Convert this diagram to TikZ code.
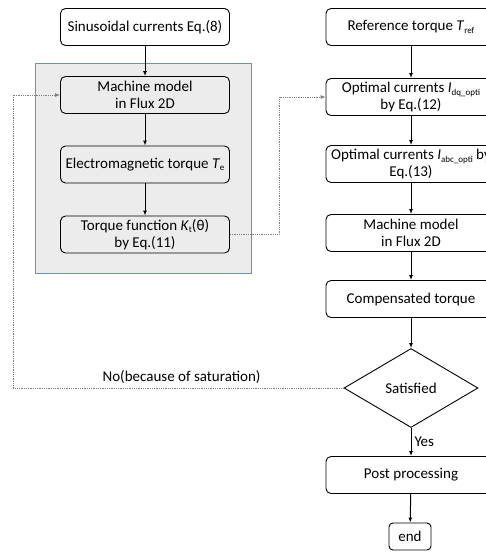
\documentclass[tikz,border=0pt]{standalone}
\usepackage{fontspec}
\setmainfont{Carlito}
\usetikzlibrary{shapes.geometric,arrows.meta}

\definecolor{panelgray}{RGB}{236,236,236}
\definecolor{panelblue}{RGB}{110,145,180}
\newcommand{\lowidx}[1]{\raisebox{-0.35ex}{\fontsize{9}{9}\selectfont #1}}

\begin{document}
\begin{tikzpicture}[x=1pt, y=-1pt,
    every node/.style={font=\fontsize{15}{17}\selectfont},
    block/.style={draw, rounded corners=5pt, line width=0.9pt, align=center,
                  minimum width=169pt, minimum height=37pt, inner sep=1pt},
    decide/.style={draw, diamond, aspect=1.7, line width=0.9pt,
                   minimum width=134pt, minimum height=79pt, inner sep=0pt},
    flow/.style={-{Latex[length=5pt,width=4pt]}, line width=1pt},
    loop/.style={-{Latex[length=5pt,width=4pt]}, gray, densely dotted, line width=0.8pt}]
    \clip (0,0) rectangle (486,552);

    % grey panel round the left steps
    \draw[fill=panelgray, draw=panelblue, line width=1pt] (35,63) rectangle (251,273);

    % left column
    \node[block] (sin) at (145,27)    {Sinusoidal currents Eq.(8)};
    \node[block] (mmA) at (145,95)    {Machine model\\in Flux 2D};
    \node[block] (emt) at (145,164.5) {Electromagnetic torque \textit{T}\lowidx{e}};
    \node[block] (tfn) at (145,234.5) {Torque function \textit{K}\lowidx{t}(θ)\\by Eq.(11)};

    % right column
    \node[block, minimum width=170pt] (ref) at (411,27)  {Reference torque \textit{T}\lowidx{ref}};
    \node[block, minimum width=170pt] (odq) at (411,97)  {Optimal currents \textit{I}\lowidx{dq\_opti}\\by Eq.(12)};
    \node[block, minimum width=170pt, inner xsep=0pt] (oab) at (411,164) {Optimal currents \textit{I}\lowidx{abc\_opti} by\\Eq.(13)};
    \node[block, minimum width=170pt] (mmB) at (411,233) {Machine model\\in Flux 2D};
    \node[block, minimum width=170pt] (cmp) at (411,299) {Compensated torque};
    \node[decide] (sat) at (411,388) {Satisfied};
    \node[block, minimum width=170pt] (pst) at (411,475) {Post processing};
    \node[block, minimum width=42pt, minimum height=27pt, rounded corners=4pt] (fin) at (410,536.5) {end};

    % main flow
    \draw[flow] (sin) -- (mmA);
    \draw[flow] (mmA) -- (emt);
    \draw[flow] (emt) -- (tfn);
    \draw[flow] (ref) -- (odq);
    \draw[flow] (odq) -- (oab);
    \draw[flow] (oab) -- (mmB);
    \draw[flow] (mmB) -- (cmp);
    \draw[flow] (cmp) -- (sat);
    \draw[flow] (sat) -- node[right, inner sep=3pt] {Yes} (pst);
    \draw[flow] (pst) -- (fin);

    % dotted links
    \draw[loop] (tfn.east) -- (279,234.5) |- (odq.west);
    \draw[loop] (sat.west) -- node[above, text=black, pos=0.49, yshift=1pt] {No(because of saturation)} (13,388) |- (mmA.west);
\end{tikzpicture}
\end{document}
